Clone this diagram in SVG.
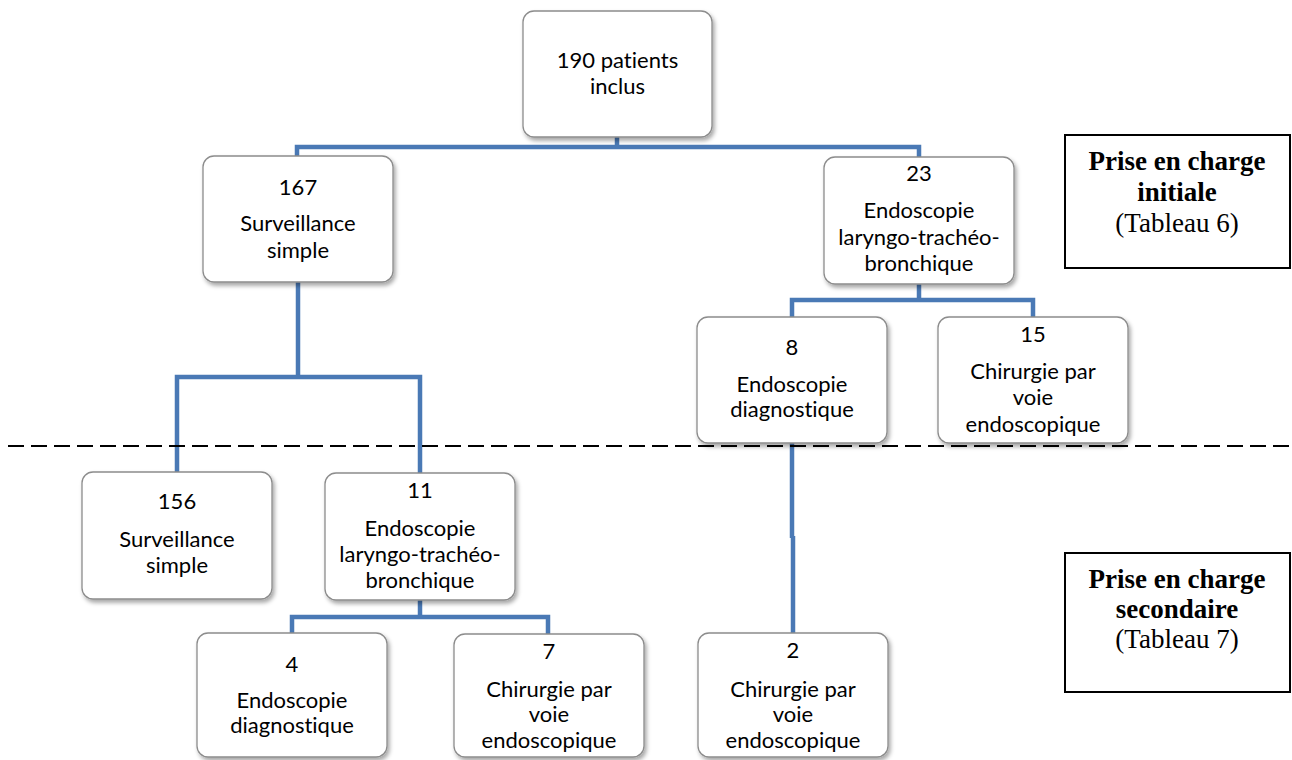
<svg xmlns="http://www.w3.org/2000/svg" width="1292" height="760" viewBox="0 0 1292 760">
<style>
.node rect{fill:#fff;stroke:#8c8c8c;stroke-width:1.3;filter:url(#sh)}
.node text{font-family:Lato,"Open Sans",sans-serif;font-size:22px;fill:#000;text-anchor:middle;font-variant-ligatures:none;font-feature-settings:"liga" 0}
.conn path{fill:none;stroke:#4a79b5;stroke-width:4.5}
.lbl rect{fill:#fff;stroke:#000;stroke-width:2}
.lbl text{font-family:"Liberation Serif","Times New Roman",serif;font-size:27px;fill:#000;text-anchor:middle}
.b{font-weight:bold}
</style>
<defs>
<filter id="sh" x="-10%" y="-10%" width="130%" height="130%">
<feDropShadow dx="2" dy="3" stdDeviation="2" flood-color="#000" flood-opacity="0.35"/>
</filter>
</defs>
<rect width="1292" height="760" fill="#fff"/>
<g id="connectors" class="conn">
<path d="M617 137 V147"/>
<path d="M297 156 V147 H919 V157"/>
<path d="M298 282 V377"/>
<path d="M177 472 V377 H420 V473"/>
<path d="M919 284 V300"/>
<path d="M792 317 V300 H1033 V317"/>
<path d="M420 600 V617"/>
<path d="M292 633 V617 H548 V634"/>
<path d="M792 443 V538"/>
<path d="M793 536 V633"/>
</g>
<path id="separator" d="M8 446 H1292" stroke="#000" stroke-width="2" stroke-dasharray="16 7" fill="none"/>
<g id="n190" class="node"><rect x="523" y="11" width="189" height="126" rx="11"/><text x="617.5" y="68">190 patients</text><text x="617.5" y="94">inclus</text></g>
<g id="n167" class="node"><rect x="203" y="156" width="190" height="126" rx="11"/><text x="298" y="195">167</text><text x="298" y="231">Surveillance</text><text x="298" y="258">simple</text></g>
<g id="n23" class="node"><rect x="824" y="157" width="190" height="127" rx="11"/><text x="919" y="181">23</text><text x="919" y="218">Endoscopie</text><text x="919" y="245">laryngo-trachéo-</text><text x="919" y="271">bronchique</text></g>
<g id="n8" class="node"><rect x="697" y="317" width="190" height="126" rx="11"/><text x="792" y="355">8</text><text x="792" y="392">Endoscopie</text><text x="792" y="417">diagnostique</text></g>
<g id="n15" class="node"><rect x="938" y="317" width="190" height="126" rx="11"/><text x="1033" y="342">15</text><text x="1033" y="379">Chirurgie par</text><text x="1033" y="405">voie</text><text x="1033" y="432">endoscopique</text></g>
<g id="n156" class="node"><rect x="82" y="472" width="190" height="127" rx="11"/><text x="177" y="509">156</text><text x="177" y="547">Surveillance</text><text x="177" y="573">simple</text></g>
<g id="n11" class="node"><rect x="325" y="473" width="190" height="127" rx="11"/><text x="420" y="498">11</text><text x="420" y="536">Endoscopie</text><text x="420" y="562">laryngo-trachéo-</text><text x="420" y="588">bronchique</text></g>
<g id="n4" class="node"><rect x="197" y="633" width="190" height="124" rx="11"/><text x="292" y="672">4</text><text x="292" y="708">Endoscopie</text><text x="292" y="733">diagnostique</text></g>
<g id="n7" class="node"><rect x="454" y="634" width="190" height="123" rx="11"/><text x="549" y="659">7</text><text x="549" y="697">Chirurgie par</text><text x="549" y="722">voie</text><text x="549" y="748">endoscopique</text></g>
<g id="n2" class="node"><rect x="698" y="633" width="190" height="124" rx="11"/><text x="793" y="658">2</text><text x="793" y="697">Chirurgie par</text><text x="793" y="722">voie</text><text x="793" y="748">endoscopique</text></g>
<g id="lbl-initiale" class="lbl"><rect x="1065" y="135" width="225" height="133"/><text x="1177" y="170" class="b">Prise en charge</text><text x="1177" y="201" class="b">initiale</text><text x="1177" y="232">(Tableau 6)</text></g>
<g id="lbl-secondaire" class="lbl"><rect x="1065" y="553" width="225" height="139"/><text x="1177" y="588" class="b">Prise en charge</text><text x="1177" y="618" class="b">secondaire</text><text x="1177" y="648">(Tableau 7)</text></g>
</svg>
